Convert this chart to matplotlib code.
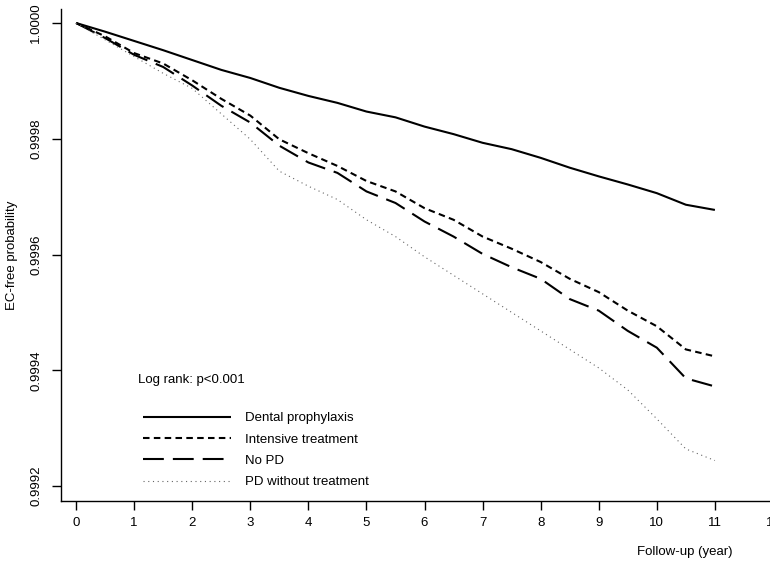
import matplotlib
matplotlib.use('Agg')
from matplotlib import pyplot as plt
from matplotlib.ticker import FormatStrFormatter

plt.rcParams['font.family'] = ['Liberation Sans', 'DejaVu Sans']
plt.rcParams['lines.scale_dashes'] = False

### data (follow-up years, EC-free probability)
years = [0, 0.5, 1, 1.5, 2, 2.5, 3, 3.5, 4, 4.5, 5, 5.5, 6, 6.5, 7, 7.5, 8, 8.5, 9, 9.5, 10, 10.5, 11]

dental = [1.0, 0.999985, 0.999969, 0.999953, 0.999936, 0.999919, 0.999905, 0.999888,
          0.999874, 0.999862, 0.999847, 0.999837, 0.999821, 0.999808, 0.999793, 0.999782,
          0.999767, 0.999750, 0.999735, 0.999721, 0.999706, 0.999686, 0.999677]

intensive = [1.0, 0.999977, 0.999948, 0.999930, 0.999901, 0.999869, 0.999840, 0.999799,
             0.999775, 0.999753, 0.999727, 0.999709, 0.999680, 0.999660, 0.999631, 0.999610,
             0.999587, 0.999558, 0.999535, 0.999503, 0.999476, 0.999436, 0.999424]

no_pd = [1.0, 0.999974, 0.999945, 0.999924, 0.999892, 0.999857, 0.999828, 0.999788,
         0.999759, 0.999741, 0.999709, 0.999689, 0.999657, 0.999631, 0.999601, 0.999578,
         0.999558, 0.999523, 0.999503, 0.999468, 0.999439, 0.999386, 0.999372]

pd_no_treat = [1.0, 0.999971, 0.999942, 0.999913, 0.999887, 0.999843, 0.999799, 0.999744,
               0.999718, 0.999695, 0.999660, 0.999631, 0.999596, 0.999564, 0.999532, 0.999500,
               0.999468, 0.999436, 0.999404, 0.999366, 0.999316, 0.999264, 0.999244]

labels = ['Dental prophylaxis', 'Intensive treatment', 'No PD', 'PD without treatment']
x_ticks = list(range(0, 13))
y_ticks = [0.9992, 0.9994, 0.9996, 0.9998, 1.0000]

W, H = 770, 561
fig = plt.figure(figsize=(W / 100, H / 100), dpi=100)
# axes run past the right edge like in the cropped original
ax = fig.add_axes([61 / W, 60 / H, (802 - 61) / W, (501 - 9) / H])

ax.plot(years, dental, color='black', lw=1.5, solid_capstyle='butt', label=labels[0])
ax.plot(years, intensive, color='black', lw=1.5, dashes=(4.7, 3.1), dash_capstyle='butt', label=labels[1])
ax.plot(years, no_pd, color='black', lw=1.5, dashes=(15, 6.5), dash_capstyle='butt', label=labels[2])
ax.plot(years, pd_no_treat, color='#666666', lw=0.8, dashes=(0.8, 2.6), label=labels[3])

ax.set_xlim(-0.26, 12.5)
ax.set_ylim(0.99917408, 1.0000242)

ax.spines['top'].set_visible(False)
ax.spines['right'].set_visible(False)
for s in ['left', 'bottom']:
    ax.spines[s].set_linewidth(1.0)

ax.set_xticks(x_ticks)
ax.set_yticks(y_ticks)
ax.yaxis.set_major_formatter(FormatStrFormatter('%.4f'))
ax.tick_params(axis='both', direction='out', length=6.5, width=1.0, labelsize=9.5)
ax.tick_params(axis='x', pad=5)
ax.tick_params(axis='y', pad=7)
for t in ax.get_yticklabels():
    t.set_rotation(90)
    t.set_va('center')

fig.text(12 / W, 1 - 255 / H, 'EC-free probability', rotation=90, ha='center', va='center', fontsize=9.5)
fig.text(685 / W, 1 - 552 / H, 'Follow-up (year)', ha='center', va='center', fontsize=9.5)
fig.text(138 / W, 1 - 380 / H, 'Log rank: p<0.001', ha='left', va='center', fontsize=9.5)

ax.legend(loc='upper left', bbox_to_anchor=(143 / W, 1 - 412 / H), bbox_transform=fig.transFigure,
          frameon=False, fontsize=9.5, handlelength=6.7, handletextpad=1.0,
          labelspacing=0.69, borderpad=0, borderaxespad=0)

fig.savefig('out.png', dpi=100)
